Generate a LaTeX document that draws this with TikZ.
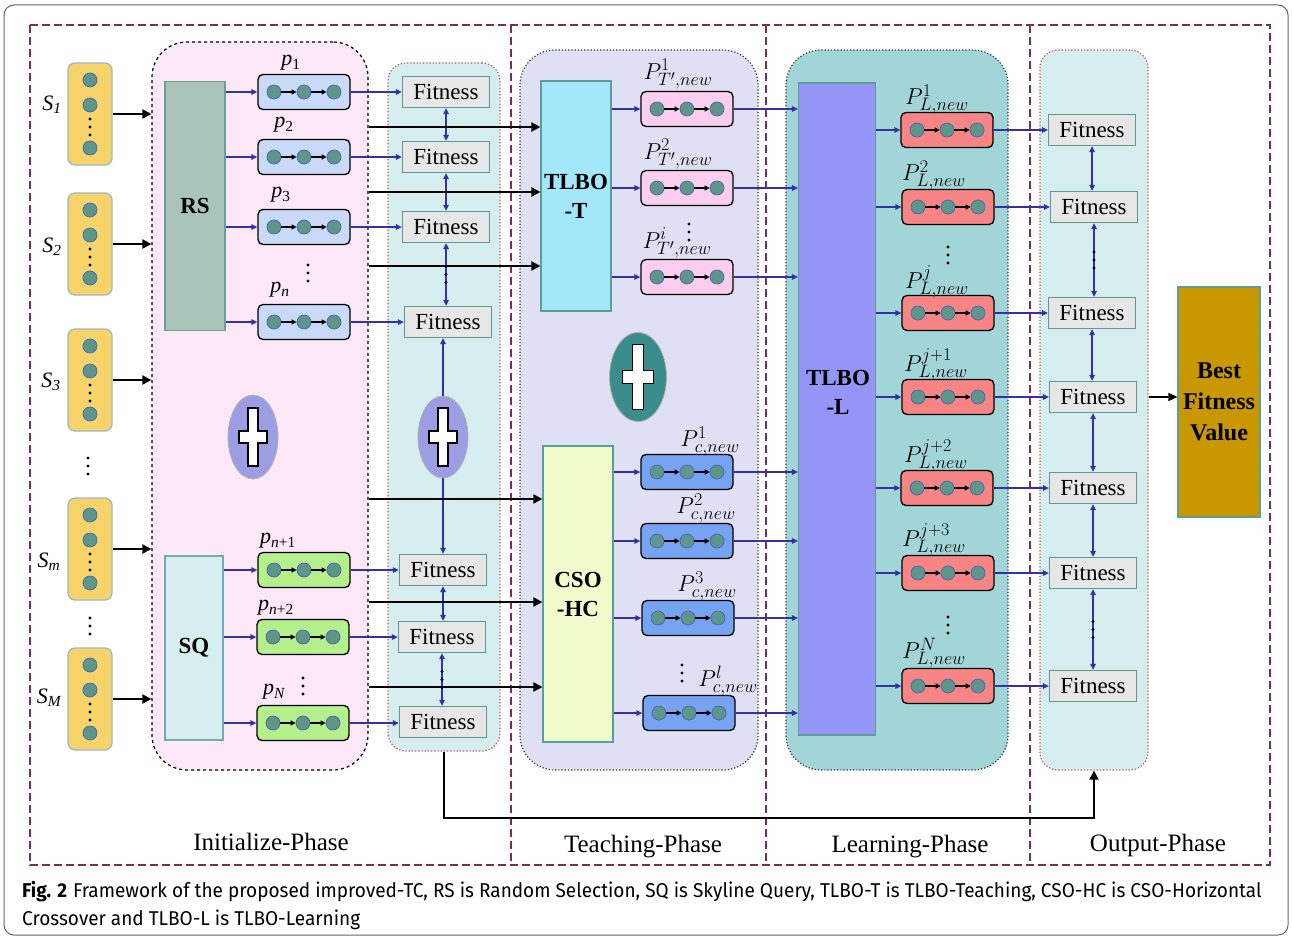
\documentclass[tikz,border=0pt]{standalone}
\usepackage{fix-cm}
\usepackage{fontspec}
\setmainfont{Liberation Serif}
\newfontfamily\capfont[FakeStretch=0.95]{Fira Sans}
\DeclareMathSizes{23}{23}{18}{14}
\usetikzlibrary{shapes.geometric,arrows.meta,calc}
\definecolor{framec}{HTML}{7B2E52}
\definecolor{initf}{HTML}{FCE8F6}
\definecolor{colf}{HTML}{D7EEF0}
\definecolor{redd}{HTML}{C0504D}
\definecolor{teachf}{HTML}{E0E0F5}
\definecolor{learnf}{HTML}{A2D5D8}
\definecolor{rsf}{HTML}{A9C5B9}
\definecolor{rsb}{HTML}{6E9E94}
\definecolor{sqf}{HTML}{D6EEF0}
\definecolor{sqb}{HTML}{78A9AE}
\definecolor{ttf}{HTML}{A3E7FA}
\definecolor{csof}{HTML}{EFFBCB}
\definecolor{tlf}{HTML}{9595F8}
\definecolor{bestf}{HTML}{C99700}
\definecolor{blkb}{HTML}{5E9C98}
\definecolor{sfill}{HTML}{F6D46A}
\definecolor{sbord}{HTML}{9DB9C2}
\definecolor{dotf}{HTML}{5F968A}
\definecolor{dotb}{HTML}{4A62B5}
\definecolor{chb}{HTML}{C8DAF8}
\definecolor{chg}{HTML}{B5F08C}
\definecolor{chp}{HTML}{FBCDEF}
\definecolor{chd}{HTML}{77A3F3}
\definecolor{chrd}{HTML}{F88585}
\definecolor{fitf}{HTML}{E7E7E7}
\definecolor{fitb}{HTML}{5F9A90}
\definecolor{pluf}{HTML}{9D9DE3}
\definecolor{plut}{HTML}{3B8C8C}
\definecolor{arrc}{HTML}{3232A2}

\newcommand\mkchain[4]{%
  \node[chainbox, fill=#4] (#1) at (#2,#3) {};
  \node[dotc] (#1a) at ($(#1.center)+(-30,0)$) {};
  \node[dotc] (#1b) at (#1.center) {};
  \node[dotc] (#1c) at ($(#1.center)+(30,0)$) {};
  \draw[chainarr] (#1a) -- (#1b);
  \draw[chainarr] (#1b) -- (#1c);
}
\newcommand\vdts[1]{%
  \fill ($(#1)+(0,-8)$) circle (1.7pt) (#1) circle (1.7pt) ($(#1)+(0,8)$) circle (1.7pt);
}
\newcommand\mkS[3]{%
  \node[sbox] (#1) at (#2,#3) {};
  \node[dotc] (#1a) at ($(#1.center)+(0,-34)$) {};
  \node[dotc] (#1b) at ($(#1.center)+(0,-9)$) {};
  \node[dotc] (#1c) at ($(#1.center)+(0,34)$) {};
  \coordinate (#1d) at ($(#1.center)+(0,13)$);
  \vdts{#1d}
}
\newcommand\mkcross[2]{%
  \draw[fill=white, draw=black, line width=1.3pt, shift={(#1.center)}, scale=#2]
    (-5,-29) -- (5,-29) -- (5,-6) -- (14,-6) -- (14,6) -- (5,6) -- (5,29)
    -- (-5,29) -- (-5,6) -- (-14,6) -- (-14,-6) -- (-5,-6) -- cycle;
}

\begin{document}
\begin{tikzpicture}[x=1pt,y=-1pt,
  font=\fontsize{22}{26}\selectfont,
  frameline/.style={draw=framec, line width=2.2pt, dash pattern=on 8pt off 4pt},
  barrow/.style={-{Triangle[length=9pt,width=9pt]}, line width=2pt, draw=black},
  larrow/.style={-{Triangle[length=6pt,width=5.5pt]}, line width=1.3pt, draw=arrc},
  darrow/.style={{Triangle[length=6pt,width=5.5pt]}-{Triangle[length=6pt,width=5.5pt]}, line width=1.3pt, draw=arrc},
  chainbox/.style={draw=black, line width=1.3pt, rounded corners=5pt, minimum width=92pt, minimum height=35pt, inner sep=0pt},
  dotc/.style={circle, fill=dotf, draw=dotb, line width=0.7pt, minimum size=14pt, inner sep=0pt},
  chainarr/.style={-{Triangle[length=5pt,width=5pt]}, line width=1.4pt, draw=black},
  fitbox/.style={draw=fitb, fill=fitf, line width=1.3pt, minimum width=87pt, minimum height=31pt, inner sep=0pt, font=\fontsize{23}{26}\selectfont},
  sbox/.style={draw=sbord, fill=sfill, line width=1.3pt, rounded corners=7pt, minimum width=44pt, minimum height=102pt, inner sep=0pt},
  blockbox/.style={draw=blkb, line width=1.2pt, inner sep=0pt, font=\fontsize{23}{29}\selectfont\bfseries, align=center},
  plusell/.style={ellipse, draw=gray!60, line width=0.8pt, inner sep=0pt},
  phasebox/.style={line width=1.2pt, inner sep=0pt},
  lab/.style={inner sep=0pt},
  plab/.style={inner sep=0pt, font=\fontsize{23}{26}\selectfont},
  phlab/.style={inner sep=0pt, font=\fontsize{25}{28}\selectfont}
]
\useasboundingbox (0,0) rectangle (1292,939);
\fill[white] (0,0) rectangle (1292,939);
\draw[draw=gray!80!black, line width=1pt, rounded corners=10pt] (4,5) rectangle (1288,935);

% phase containers
\node[phasebox, draw=black, dashed, fill=initf, rounded corners=35pt, minimum width=216pt, minimum height=728pt] (init) at (260,406) {};
\node[phasebox, draw=redd, dotted, fill=colf, rounded corners=18pt, minimum width=112pt, minimum height=688pt] (fcol) at (444,407) {};
\node[phasebox, draw=black!80, dotted, fill=teachf, rounded corners=35pt, minimum width=238pt, minimum height=720pt] (teach) at (639,410) {};
\node[phasebox, draw=black!80, dotted, fill=learnf, rounded corners=35pt, minimum width=222pt, minimum height=720pt] (learn) at (897,410) {};
\node[phasebox, draw=redd, dotted, fill=colf, rounded corners=18pt, minimum width=108pt, minimum height=720pt] (ocol) at (1094,410) {};

% outer dashed frame and dividers
\draw[frameline] (30,25) rectangle (1270,865);
\draw[frameline] (511,25) -- (511,865);
\draw[frameline] (766,25) -- (766,865);
\draw[frameline] (1030,25) -- (1030,865);

% S nodes
\mkS{S1}{90}{114}
\mkS{S2}{90}{244}
\mkS{S3}{90}{380}
\mkS{Sm}{90}{549}
\mkS{SM}{90}{699}
\node[lab] at (52,105) {\itshape S\textsubscript{1}};
\node[lab] at (52,247) {\itshape S\textsubscript{2}};
\node[lab] at (51,382) {\itshape S\textsubscript{3}};
\node[lab] at (49,562) {\itshape S\textsubscript{m}};
\node[lab] at (49,698) {\itshape S\textsubscript{M}};
\vdts{88,466}
\vdts{90,626}
\foreach \s in {S1,S2,S3,Sm,SM} \draw[barrow] (\s.east) -- (\s.east -| init.west);

% RS / SQ
\node[blockbox, fill=rsf, draw=rsb, minimum width=60pt, minimum height=249pt] (RS) at (195,206) {RS};
\node[blockbox, fill=sqf, draw=sqb, minimum width=58pt, minimum height=184pt] (SQ) at (194,648) {SQ};

% initial chains
\mkchain{p1}{304}{92}{chb}
\mkchain{p2}{304}{157}{chb}
\mkchain{p3}{304}{227}{chb}
\mkchain{pn}{304}{322}{chb}
\mkchain{pa}{304}{570}{chg}
\mkchain{pb}{303}{637}{chg}
\mkchain{pN}{303}{723}{chg}
\node[lab] at (291,63) {\itshape p\textsubscript{\upshape 1}};
\node[lab] at (284,125) {\itshape p\textsubscript{\upshape 2}};
\node[lab] at (281,195) {\itshape p\textsubscript{\upshape 3}};
\node[lab] at (280,290) {\itshape p\textsubscript{n}};
\node[lab] at (278,541) {\itshape p\textsubscript{n\upshape +1}};
\node[lab] at (276,608) {\itshape p\textsubscript{n\upshape +2}};
\node[lab] at (274,692) {\itshape p\textsubscript{N}};
\vdts{308,273}
\vdts{303,686}
\foreach \c in {p1,p2,p3,pn} \draw[larrow] (RS.east |- \c.west) -- (\c.west);
\foreach \c in {pa,pb,pN} \draw[larrow] (SQ.east |- \c.west) -- (\c.west);

% plus signs
\node[plusell, fill=pluf, minimum width=50pt, minimum height=84pt] (pl1) at (253,437) {};
\mkcross{pl1}{1}
\node[plusell, fill=pluf, minimum width=50pt, minimum height=82pt] (pl2) at (443,437) {};
\mkcross{pl2}{1}
\node[plusell, fill=plut, minimum width=57pt, minimum height=89pt] (pl3) at (638,377) {};
\mkcross{pl3}{1.12}

% fitness (initial)
\node[fitbox] (F1) at (446,92) {Fitness};
\node[fitbox] (F2) at (446,157) {Fitness};
\node[fitbox] (F3) at (446,227) {Fitness};
\node[fitbox] (Fn) at (448,322) {Fitness};
\node[fitbox] (Fa) at (443,570) {Fitness};
\node[fitbox] (Fb) at (442,637) {Fitness};
\node[fitbox] (FN) at (443,722) {Fitness};
\draw[larrow] (p1.east) -- (p1.east -| F1.west);
\draw[larrow] (p2.east) -- (p2.east -| F2.west);
\draw[larrow] (p3.east) -- (p3.east -| F3.west);
\draw[larrow] (pn.east) -- (pn.east -| Fn.west);
\draw[larrow] (pa.east) -- (pa.east -| Fa.west);
\draw[larrow] (pb.east) -- (pb.east -| Fb.west);
\draw[larrow] (pN.east) -- (pN.east -| FN.west);
\draw[darrow] (F1.south) -- (F1.south |- F2.north);
\draw[darrow] (F2.south) -- (F2.south |- F3.north);
\draw[darrow] (F3.south) -- (F3.south |- Fn.north);
\coordinate (m1) at ($(F3.south)!0.5!(F3.south |- Fn.north)$);
\vdts{m1}
\draw[larrow] (pl2.north) -- (pl2.north |- Fn.south);
\draw[larrow] (pl2.south) -- (pl2.south |- Fa.north);
\draw[darrow] (Fa.south) -- (Fa.south |- Fb.north);
\draw[darrow] (Fb.south) -- (Fb.south |- FN.north);
\coordinate (m2) at ($(Fb.south)!0.5!(Fb.south |- FN.north)$);
\vdts{m2}

% teaching phase blocks
\node[blockbox, fill=ttf, minimum width=70pt, minimum height=230pt] (TT) at (576,196) {TLBO\\-T};
\node[blockbox, fill=csof, minimum width=70pt, minimum height=296pt] (CS) at (578,594) {CSO\\-HC};
\coordinate (t1) at (0,127);
\coordinate (t2) at (0,192);
\coordinate (t3) at (0,266);
\coordinate (t4) at (0,499);
\coordinate (t5) at (0,602);
\coordinate (t6) at (0,687);
\foreach \t in {t1,t2,t3} \draw[barrow] (init.east |- \t) -- (TT.west |- \t);
\foreach \t in {t4,t5,t6} \draw[barrow] (init.east |- \t) -- (CS.west |- \t);

\mkchain{tp1}{687}{109}{chp}
\mkchain{tp2}{687}{188}{chp}
\mkchain{tp3}{687}{277}{chp}
\mkchain{cp1}{687}{472}{chd}
\mkchain{cp2}{687}{541}{chd}
\mkchain{cp3}{688}{618}{chd}
\mkchain{cp4}{689}{713}{chd}
\node[plab] at (678,74) {$P^{1}_{T',new}$};
\node[plab] at (678,154) {$P^{2}_{T',new}$};
\node[plab] at (677,243) {$P^{i}_{T',new}$};
\vdts{689,232}
\node[plab] at (710,441) {$P^{1}_{c,new}$};
\node[plab] at (706,508) {$P^{2}_{c,new}$};
\node[plab] at (707,586) {$P^{3}_{c,new}$};
\node[plab] at (728,681) {$P^{l}_{c,new}$};
\vdts{682,673}
\foreach \c in {tp1,tp2,tp3} \draw[larrow] (TT.east |- \c.west) -- (\c.west);
\foreach \c in {cp1,cp2,cp3,cp4} \draw[larrow] (CS.east |- \c.west) -- (\c.west);

% learning phase
\node[blockbox, fill=tlf, minimum width=77pt, minimum height=652pt] (TL) at (837,409) {};
\node[lab, font=\fontsize{23}{29}\selectfont\bfseries, align=center] at (838,392) {TLBO\\-L};
\foreach \c in {tp1,tp2,tp3,cp1,cp2,cp3,cp4} \draw[larrow] (\c.east) -- (\c.east -| TL.west);

\mkchain{lp1}{947}{130}{chrd}
\mkchain{lp2}{948}{207}{chrd}
\mkchain{lp3}{948}{313}{chrd}
\mkchain{lp4}{948}{397}{chrd}
\mkchain{lp5}{947}{488}{chrd}
\mkchain{lp6}{948}{573}{chrd}
\mkchain{lp7}{948}{686}{chrd}
\node[plab] at (937,99) {$P^{1}_{L,new}$};
\node[plab] at (934,175) {$P^{2}_{L,new}$};
\vdts{948,255}
\node[plab] at (937,282) {$P^{j}_{L,new}$};
\node[plab] at (936,365) {$P^{j+1}_{L,new}$};
\node[plab] at (936,456) {$P^{j+2}_{L,new}$};
\node[plab] at (934,540) {$P^{j+3}_{L,new}$};
\vdts{948,625}
\node[plab] at (934,653) {$P^{N}_{L,new}$};
\foreach \c in {lp1,lp2,lp3,lp4,lp5,lp6,lp7} \draw[larrow] (TL.east |- \c.west) -- (\c.west);

% output phase
\node[fitbox] (O1) at (1092,130) {Fitness};
\node[fitbox] (O2) at (1094,207) {Fitness};
\node[fitbox] (O3) at (1092,313) {Fitness};
\node[fitbox] (O4) at (1093,397) {Fitness};
\node[fitbox] (O5) at (1093,488) {Fitness};
\node[fitbox] (O6) at (1093,573) {Fitness};
\node[fitbox] (O7) at (1093,686) {Fitness};
\draw[larrow] (lp1.east) -- (lp1.east -| O1.west);
\draw[larrow] (lp2.east) -- (lp2.east -| O2.west);
\draw[larrow] (lp3.east) -- (lp3.east -| O3.west);
\draw[larrow] (lp4.east) -- (lp4.east -| O4.west);
\draw[larrow] (lp5.east) -- (lp5.east -| O5.west);
\draw[larrow] (lp6.east) -- (lp6.east -| O6.west);
\draw[larrow] (lp7.east) -- (lp7.east -| O7.west);
\draw[darrow] (O1.south) -- (O1.south |- O2.north);
\draw[darrow] (O2.south) -- (O2.south |- O3.north);
\coordinate (m3) at ($(O2.south)!0.5!(O2.south |- O3.north)$);
\vdts{m3}
\draw[darrow] (O3.south) -- (O3.south |- O4.north);
\draw[darrow] (O4.south) -- (O4.south |- O5.north);
\draw[darrow] (O5.south) -- (O5.south |- O6.north);
\draw[darrow] (O6.south) -- (O6.south |- O7.north);
\coordinate (m4) at ($(O6.south)!0.5!(O6.south |- O7.north)$);
\vdts{m4}

\node[blockbox, fill=bestf, minimum width=82pt, minimum height=230pt, font=\fontsize{24}{31}\selectfont\bfseries] (Best) at (1219,402) {Best\\Fitness\\Value};
\draw[-{Triangle[length=9pt,width=8pt]}, line width=1.6pt] (ocol.east |- O4.east) -- (Best.west |- O4.east);

% feedback
\draw[barrow] (fcol.south) -- ++(0,66) -| (ocol.south);

% phase labels
\node[phlab] at (271,842) {Initialize-Phase};
\node[phlab] at (643,847) {Teaching-Phase};
\node[phlab] at (910,847) {Learning-Phase};
\node[phlab] at (1158,845) {Output-Phase};

% caption
\node[lab, anchor=base west, font=\capfont\fontsize{20}{24}\selectfont] (cap1) at (22,897) {\textbf{Fig. 2}\hspace{6pt}Framework of the proposed improved-TC, RS is Random Selection, SQ is Skyline Query, TLBO-T is TLBO-Teaching, CSO-HC is CSO-Horizontal};
\node[lab, anchor=base west, font=\capfont\fontsize{20}{24}\selectfont] (cap2) at (22,925) {Crossover and TLBO-L is TLBO-Learning};
\end{tikzpicture}
\end{document}
